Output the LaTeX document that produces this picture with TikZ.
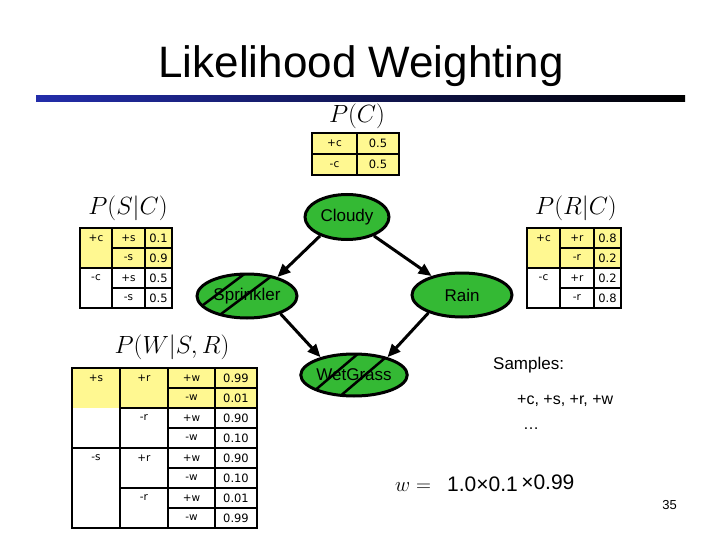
\documentclass[tikz,border=0pt]{standalone}
\usepackage{fontspec}
\setmainfont{Liberation Sans}
\newfontfamily\tabfont{DejaVu Sans}
\usetikzlibrary{shapes.geometric,arrows.meta}
\definecolor{ylw}{RGB}{255,248,145}
\definecolor{grn}{RGB}{52,185,52}
\definecolor{barblue}{RGB}{35,45,170}
\begin{document}
\begin{tikzpicture}[x=1pt,y=-1pt,
  cell/.style={font=\tabfont\fontsize{10.5}{13}\selectfont, inner sep=0pt},
  num/.style={font=\tabfont\fontsize{11.5}{14}\selectfont, inner sep=0pt},
  grid/.style={line width=1.5pt},
  bn/.style={ellipse, fill=grn, draw=black, line width=3pt, minimum width=100pt, minimum height=44pt, inner sep=0pt, font=\fontsize{17}{20}\selectfont},
  arr/.style={line width=3pt, -{Triangle[length=13pt,width=11pt]}},
  hatch/.style={line width=2.5pt},
  cpt/.style={font=\fontsize{27}{31}\selectfont, inner sep=0pt},
  txt/.style={anchor=base west, inner sep=0pt}]
\useasboundingbox (0,0) rectangle (720,540);
\fill[white] (0,0) rectangle (720,540);

% title
\node[anchor=base, inner sep=0pt, font=\fontsize{44}{50}\selectfont] (title) at (361,78) {Likelihood Weighting};
\shade[left color=barblue, right color=black] (36,96) rectangle (685,102);

% P(C)
\node[cpt] (pc) at (357,116) {$P(C)$};
\fill[ylw] (312,133) rectangle (399,175);
\draw[grid] (312,133) rectangle (399,175) (357,133) -- (357,175) (312,154) -- (399,154);
\node[cell] (c1) at (334.5,143.5) {+c};
\node[num] (c1v) at (378,143.5) {0.5};
\node[cell] (c2) at (334.5,164.5) {-c};
\node[num] (c2v) at (378,164.5) {0.5};

% P(S|C)
\node[cpt] (psc) at (128,208) {$P(S|C)$};
\fill[ylw] (80,228) rectangle (172,268);
\draw[grid] (80,228) rectangle (172,308) (112,228) -- (112,308) (145,228) -- (145,308)
  (80,268) -- (172,268) (112,248) -- (172,248) (112,288) -- (172,288);
\node[cell] (sc1) at (96,238) {+c};
\node[cell] (sc2) at (96,278) {-c};
\node[cell] (ss1) at (128.5,238) {+s};
\node[cell] (ss2) at (128.5,258) {-s};
\node[cell] (ss3) at (128.5,278) {+s};
\node[cell] (ss4) at (128.5,298) {-s};
\node[num] (sv1) at (158.5,238) {0.1};
\node[num] (sv2) at (158.5,258) {0.9};
\node[num] (sv3) at (158.5,278) {0.5};
\node[num] (sv4) at (158.5,298) {0.5};

% P(R|C)
\node[cpt] (prc) at (576,208) {$P(R|C)$};
\fill[ylw] (527,228) rectangle (621,268);
\draw[grid] (527,228) rectangle (621,308) (560,228) -- (560,308) (594,228) -- (594,308)
  (527,268) -- (621,268) (560,248) -- (621,248) (560,288) -- (621,288);
\node[cell] (rc1) at (543.5,238) {+c};
\node[cell] (rc2) at (543.5,278) {-c};
\node[cell] (rr1) at (577,238) {+r};
\node[cell] (rr2) at (577,258) {-r};
\node[cell] (rr3) at (577,278) {+r};
\node[cell] (rr4) at (577,298) {-r};
\node[num] (rv1) at (607.5,238) {0.8};
\node[num] (rv2) at (607.5,258) {0.2};
\node[num] (rv3) at (607.5,278) {0.2};
\node[num] (rv4) at (607.5,298) {0.8};

% P(W|S,R)
\node[cpt] (pw) at (172,347) {$P(W|S,R)$};
\fill[ylw] (72,368) rectangle (257,408);
\draw[grid] (72,368) rectangle (257,528) (120,368) -- (120,528) (168,368) -- (168,528) (215,368) -- (215,528)
  (72,448) -- (257,448) (120,408) -- (257,408) (120,488) -- (257,488)
  (168,388) -- (257,388) (168,428) -- (257,428) (168,468) -- (257,468) (168,508) -- (257,508);
\node[cell] (ws1) at (96,378) {+s};
\node[cell] (ws2) at (96,458) {-s};
\node[cell] (wr1) at (144,378) {+r};
\node[cell] (wr2) at (144,418) {-r};
\node[cell] (wr3) at (144,458) {+r};
\node[cell] (wr4) at (144,498) {-r};
\node[cell] (ww1) at (191.5,378) {+w};
\node[cell] (ww2) at (191.5,398) {-w};
\node[cell] (ww3) at (191.5,418) {+w};
\node[cell] (ww4) at (191.5,438) {-w};
\node[cell] (ww5) at (191.5,458) {+w};
\node[cell] (ww6) at (191.5,478) {-w};
\node[cell] (ww7) at (191.5,498) {+w};
\node[cell] (ww8) at (191.5,518) {-w};
\node[num] (wv1) at (236,378) {0.99};
\node[num] (wv2) at (236,398) {0.01};
\node[num] (wv3) at (236,418) {0.90};
\node[num] (wv4) at (236,438) {0.10};
\node[num] (wv5) at (236,458) {0.90};
\node[num] (wv6) at (236,478) {0.10};
\node[num] (wv7) at (236,498) {0.01};
\node[num] (wv8) at (236,518) {0.99};

% network
\node[bn, minimum width=84pt, minimum height=45pt] (cloudy) at (347,217) {Cloudy};
\node[bn] (spr) at (247,296) {Sprinkler};
\node[bn] (rain) at (462,295) {Rain};
\node[bn, minimum height=42pt] (wet) at (354,375) {WetGrass};

\begin{scope}
\clip (247,296) ellipse [x radius=50, y radius=22];
\draw[hatch] (155,341) -- (275,251) (185,341) -- (305,251);
\end{scope}
\begin{scope}
\clip (354,375) ellipse [x radius=50, y radius=21];
\draw[hatch] (273,426) -- (393,324) (305,426) -- (425,324);
\end{scope}

\draw[arr] (cloudy.215) -- (spr.32);
\draw[arr] (cloudy.-35) -- (rain.148);
\draw[arr] (spr.-28) -- (wet.152);
\draw[arr] (rain.208) -- (wet.28);

% samples
\node[txt, font=\fontsize{17}{20}\selectfont] (samp) at (493,369) {Samples:};
\node[txt, font=\fontsize{16}{19}\selectfont] (s1) at (517,404) {+c, +s, +r, +w};
\node[txt, font=\fontsize{16}{19}\selectfont] (s2) at (523,429) {…};

% formula
\node[txt, font=\fontsize{22}{26}\selectfont] (fw) at (395,491) {$w=$};
\node[txt, font=\fontsize{21}{25}\selectfont] (f1) at (447,491) {1.0×0.1};
\node[txt, font=\fontsize{21}{25}\selectfont] (f2) at ([shift={(3,-2)}]f1.base east) {×0.99};

\node[anchor=base east, inner sep=0pt, font=\fontsize{13}{15}\selectfont] (pg) at (677,509) {35};
\end{tikzpicture}
\end{document}
